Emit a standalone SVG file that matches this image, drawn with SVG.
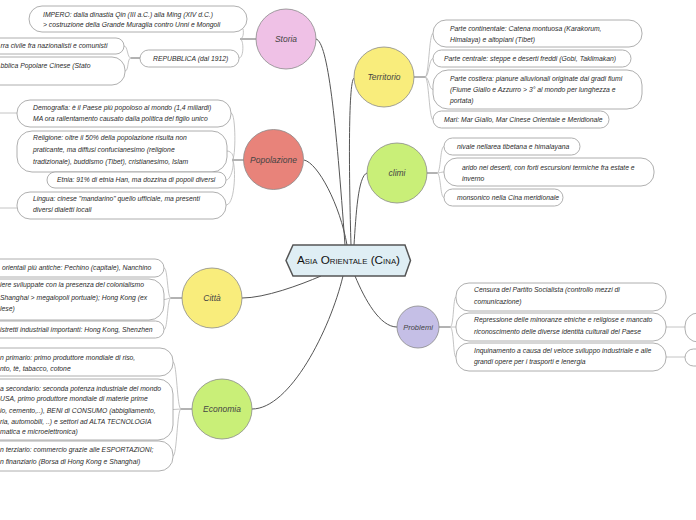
<svg xmlns="http://www.w3.org/2000/svg" width="696" height="520" viewBox="0 0 696 520">
<style>
.bx{fill:#fff;stroke:#9a9a9a;stroke-width:0.8}
.t{font-family:"Liberation Sans",Arial,sans-serif;font-style:italic;font-size:6.8px;fill:#2a2a2a}
.ct{font-family:"Liberation Sans",Arial,sans-serif;font-style:italic;font-size:8.5px;fill:#444;text-anchor:middle}
.cc{stroke:#8a8a8a;stroke-width:0.8}
.main{fill:none;stroke:#555;stroke-width:1}
.br{fill:none;stroke:#b5b5b5;stroke-width:0.8}
.stem{fill:none;stroke:#666;stroke-width:1}
</style>
<rect width="696" height="520" fill="#fff"/>
<g id="connectors">
<path class="main" d="M316,39 C328,42 336,120 345,245"/>
<path class="main" d="M354,78 C348,82 349,180 351,245"/>
<path class="main" d="M304,160 C318,163 340,205 347,245"/>
<path class="main" d="M367,173 C358,176 356,215 354,245"/>
<path class="main" d="M321,276 C300,285 265,298 242,298"/>
<path class="main" d="M343,276 C330,330 290,409 252,409"/>
<path class="main" d="M355,276 C365,300 380,327 397,327"/>
<path class="stem" d="M256,39 H240"/>
<path class="br" d="M240,39 C244,39 244,58 239,58 M240,39 C243,39 244,33 243,29"/>
<path class="stem" d="M140,58 H131"/>
<path class="br" d="M131,58 C127,58 128,46 124,46 M131,58 C127,58 129,71 125,71"/>
<path class="stem" d="M244,160 H232"/>
<path class="br" d="M232,160 C236,160 236,113 231,113 M232,160 C235,160 233,151 227,151 M232,160 C235,160 232,180 226,180 M232,160 C236,160 236,205 226,205"/>
<path class="br" d="M0,113 H17 M0,208 H17"/>
<path class="stem" d="M414,77 H425"/>
<path class="br" d="M425,77 C429,77 429,33.5 433,33.5 M425,77 C429,77 429,58.5 433,58.5 M425,77 C429,77 429,89.5 433,89.5 M425,77 C429,77 429,119.5 433,119.5"/>
<path class="stem" d="M427,173 H437"/>
<path class="br" d="M437,173 C441,173 440,146.5 444,146.5 M437,173 C440,173 441,172 444,172 M437,173 C441,173 440,197.5 444,197.5"/>
<path class="stem" d="M182,298 H171"/>
<path class="br" d="M171,298 C167,298 168,268 164,268 M171,298 C168,298 167,299.5 164,299.5 M171,298 C167,298 168,329.5 164,329.5"/>
<path class="stem" d="M192,409 H181"/>
<path class="br" d="M181,409 C177,409 177,362 173,362 M181,409 C178,409 176,409.5 173,409.5 M181,409 C177,409 177,456 173,456"/>
<path class="stem" d="M439,327 H450"/>
<path class="br" d="M450,327 C454,327 453,297 456,297 M450,327 H456 M450,327 C454,327 453,357 456,357"/>
<path class="br" d="M666,327 H685 M666,357 H685"/>
</g>
<g id="center">
<polygon points="286,260.5 293,245 405,245 410.5,260.5 405,276 293,276" fill="#dfeef4" stroke="#555" stroke-width="1.5"/>
<text x="348.5" y="264" text-anchor="middle" font-family="Liberation Sans, Arial, sans-serif" font-size="10.5" font-variant="small-caps" fill="#111" textLength="103" lengthAdjust="spacingAndGlyphs">Asia Orientale (Cina)</text>
</g>
<g id="storia">
<circle cx="286" cy="39" r="30" fill="#efc1e6" class="cc"/>
<text class="ct" x="286" y="42">Storia</text>
</g>
<g id="storia-impero">
<rect class="bx" x="29" y="6" width="218" height="26" rx="13"/>
<text class="t" x="43" y="16.5">IMPERO: dalla dinastia Qin (III a.C.) alla Ming (XIV d.C.)</text>
<text class="t" x="43" y="27">&gt; costruzione della Grande Muraglia contro Unni e Mongoli</text>
</g>
<g id="storia-repubblica">
<rect class="bx" x="140" y="50" width="99" height="17" rx="8.5"/>
<text class="t" x="153" y="60.5">REPUBBLICA (dal 1912)</text>
</g>
<g id="rep-1">
<rect class="bx" x="-60" y="38" width="184" height="16" rx="8"/>
<text class="t" x="0.5" y="48">rra civile fra nazionalisti e comunisti</text>
</g>
<g id="rep-2">
<rect class="bx" x="-60" y="57" width="185" height="28" rx="13"/>
<text class="t" x="0.5" y="68">bblica Popolare Cinese (Stato</text>
</g>
<g id="popolazione">
<circle cx="273.5" cy="159.5" r="30" fill="#e8837a" class="cc"/>
<text class="ct" x="273.5" y="162.5">Popolazione</text>
</g>
<g id="pop-demografia">
<rect class="bx" x="17" y="100" width="214" height="27" rx="13"/>
<text class="t" x="33" y="109.5">Demografia: è il Paese più popoloso al mondo (1,4 miliardi)</text>
<text class="t" x="33" y="121">MA ora rallentamento causato dalla politica del figlio unico</text>
</g>
<g id="pop-religione">
<rect class="bx" x="17" y="131" width="210" height="41" rx="15"/>
<text class="t" x="33" y="139.5">Religione: oltre il 50% della popolazione risulta non</text>
<text class="t" x="33" y="152">praticante, ma diffusi confucianesimo (religione</text>
<text class="t" x="33" y="163.5">tradizionale), buddismo (Tibet), cristianesimo, Islam</text>
</g>
<g id="pop-etnia">
<rect class="bx" x="47" y="172" width="179" height="16" rx="8"/>
<text class="t" x="57" y="182.3">Etnia: 91% di etnia Han, ma dozzina di popoli diversi</text>
</g>
<g id="pop-lingua">
<rect class="bx" x="17" y="192" width="209" height="27" rx="13"/>
<text class="t" x="33" y="201">Lingua: cinese "mandarino" quello ufficiale, ma presenti</text>
<text class="t" x="33" y="212">diversi dialetti locali</text>
</g>
<g id="territorio">
<circle cx="384" cy="77" r="30" fill="#f9ed7c" class="cc"/>
<text class="ct" x="384" y="80">Territorio</text>
</g>
<g id="ter-continentale">
<rect class="bx" x="433" y="20" width="209" height="27" rx="13"/>
<text class="t" x="450" y="31">Parte continentale: Catena montuosa (Karakorum,</text>
<text class="t" x="450" y="42">Himalaya) e altopiani (Tibet)</text>
</g>
<g id="ter-centrale">
<rect class="bx" x="433" y="50" width="198" height="17" rx="8.5"/>
<text class="t" x="444" y="61">Parte centrale: steppe e deserti freddi (Gobi, Taklimakan)</text>
</g>
<g id="ter-costiera">
<rect class="bx" x="433" y="70" width="209" height="39" rx="15"/>
<text class="t" x="450" y="81">Parte costiera: pianure alluvionali originate dai gradi fiumi</text>
<text class="t" x="450" y="92">(Fiume Giallo e Azzurro &gt; 3° al mondo per lunghezza e</text>
<text class="t" x="450" y="102.5">portata)</text>
</g>
<g id="ter-mari">
<rect class="bx" x="433" y="111" width="176" height="17" rx="8.5"/>
<text class="t" x="444" y="122">Mari: Mar Giallo, Mar Cinese Orientale e Meridionale</text>
</g>
<g id="climi">
<circle cx="397" cy="173" r="30" fill="#c9ef78" class="cc"/>
<text class="ct" x="397" y="176">climi</text>
</g>
<g id="climi-1">
<rect class="bx" x="444" y="138" width="136" height="17" rx="8.5"/>
<text class="t" x="457" y="149.3">nivale nellarea tibetana e himalayana</text>
</g>
<g id="climi-2">
<rect class="bx" x="444" y="158" width="210" height="28" rx="13"/>
<text class="t" x="462" y="169.5">arido nei deserti, con forti escursioni termiche fra estate e</text>
<text class="t" x="462" y="180.5">inverno</text>
</g>
<g id="climi-3">
<rect class="bx" x="444" y="189" width="119" height="17" rx="8.5"/>
<text class="t" x="457" y="200">monsonico nella Cina meridionale</text>
</g>
<g id="citta">
<circle cx="212" cy="298" r="30" fill="#f9ed7c" class="cc"/>
<text class="ct" x="212" y="301">Città</text>
</g>
<g id="citta-1">
<rect class="bx" x="-60" y="259" width="224" height="18" rx="9"/>
<text class="t" x="2" y="270">orientali più antiche: Pechino (capitale), Nanchino</text>
</g>
<g id="citta-2">
<rect class="bx" x="-60" y="279" width="224" height="41" rx="15"/>
<text class="t" x="0" y="287.3">iere sviluppate con la presenza del colonialismo</text>
<text class="t" x="0" y="299.5">Shanghai &gt; megalopoli portuale); Hong Kong (ex</text>
<text class="t" x="0" y="311">lese)</text>
</g>
<g id="citta-3">
<rect class="bx" x="-60" y="321" width="224" height="17" rx="8.5"/>
<text class="t" x="0" y="332">istretti industriali importanti: Hong Kong, Shenzhen</text>
</g>
<g id="economia">
<circle cx="222" cy="409" r="30" fill="#c9ef78" class="cc"/>
<text class="ct" x="222" y="412">Economia</text>
</g>
<g id="eco-1">
<rect class="bx" x="-60" y="348" width="233" height="28" rx="13"/>
<text class="t" x="0" y="360">n primario: primo produttore mondiale di riso,</text>
<text class="t" x="0" y="370.5">nto, tè, tabacco, cotone</text>
</g>
<g id="eco-2">
<rect class="bx" x="-60" y="379" width="233" height="61" rx="15"/>
<text class="t" x="0" y="390.5">a secondario: seconda potenza industriale del mondo</text>
<text class="t" x="0" y="401.3">USA, primo produttore mondiale di materie prime</text>
<text class="t" x="0" y="413">io, cemento,..), BENI di CONSUMO (abbigliamento,</text>
<text class="t" x="0" y="423.5">ria, automobili, ..) e settori ad ALTA TECNOLOGIA</text>
<text class="t" x="0" y="433.5">matica e microelettronica)</text>
</g>
<g id="eco-3">
<rect class="bx" x="-60" y="441" width="233" height="30" rx="14"/>
<text class="t" x="0" y="452">n terziario: commercio grazie alle ESPORTAZIONI;</text>
<text class="t" x="0" y="464">n finanziario (Borsa di Hong Kong e Shanghai)</text>
</g>
<g id="problemi">
<circle cx="418" cy="327" r="21" fill="#c5bfe6" class="cc"/>
<text class="ct" x="418" y="330" style="font-size:7.5px">Problemi</text>
</g>
<g id="prob-1">
<rect class="bx" x="456" y="283" width="210" height="28" rx="13"/>
<text class="t" x="474" y="292">Censura del Partito Socialista (controllo mezzi di</text>
<text class="t" x="474" y="303.5">comunicazione)</text>
</g>
<g id="prob-2">
<rect class="bx" x="456" y="313" width="210" height="28" rx="13"/>
<text class="t" x="474" y="322">Repressione delle minoranze etniche e religiose e mancato</text>
<text class="t" x="474" y="333.5">riconoscimento delle diverse identità culturali del Paese</text>
</g>
<g id="prob-3">
<rect class="bx" x="456" y="343" width="210" height="28" rx="13"/>
<text class="t" x="474" y="353">Inquinamento a causa del veloce sviluppo industriale e alle</text>
<text class="t" x="474" y="363.5">grandi opere per i trasporti e lenergia</text>
</g>
<g id="prob-2-child">
<rect class="bx" x="685" y="313" width="80" height="29" rx="13"/>
</g>
<g id="prob-3-child">
<rect class="bx" x="685" y="349" width="80" height="17" rx="8.5"/>
</g>
</svg>
